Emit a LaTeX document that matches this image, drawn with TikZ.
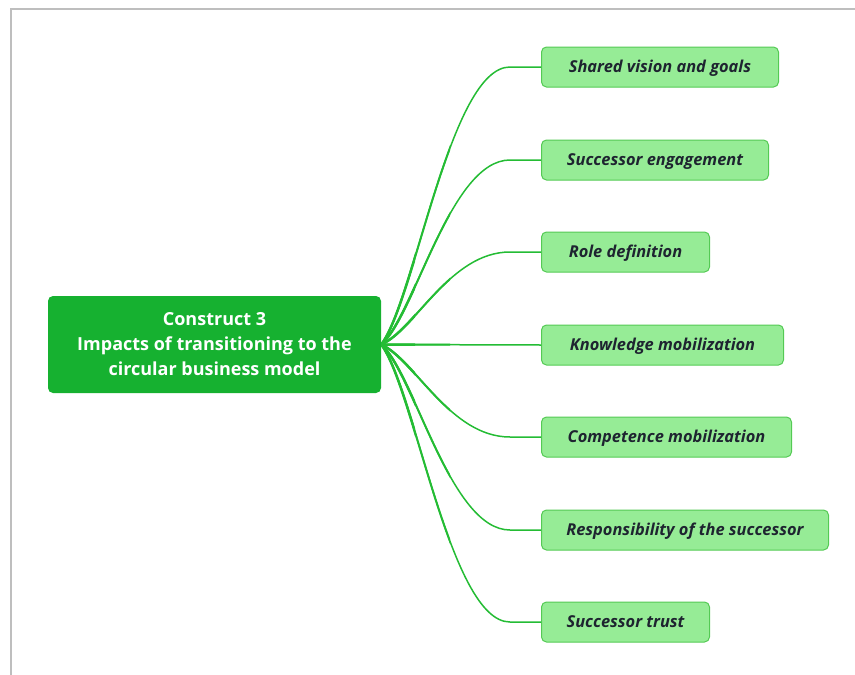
\documentclass[tikz,border=0pt]{standalone}
\usepackage{fontspec}
\setmainfont{Open Sans}
\usetikzlibrary{calc}
\definecolor{rootgreen}{RGB}{22,177,48}
\definecolor{leafgreen}{RGB}{150,236,150}
\definecolor{leafedge}{RGB}{84,202,84}
\definecolor{branchgreen}{RGB}{36,188,52}
\definecolor{leaftext}{RGB}{30,36,48}
\definecolor{framegray}{RGB}{190,190,190}

\begin{document}
\begin{tikzpicture}[x=1pt,y=-1pt,
  rootbox/.style={fill=rootgreen, rounded corners=5pt, minimum width=333pt,
    minimum height=97pt, text=white, align=center, inner sep=0pt,
    font=\bfseries\fontsize{18}{25}\selectfont},
  leafbox/.style={anchor=west, fill=leafgreen, draw=leafedge, line width=1pt,
    rounded corners=5pt, minimum height=40pt, inner sep=0pt, text=leaftext,
    text height=11.6pt, text depth=0pt,
    font=\bfseries\itshape\fontsize{16.4}{18}\selectfont},
  branchline/.style={draw=branchgreen, line width=#1},
  branchline/.default=1.4pt]

\useasboundingbox (0,0) rectangle (855,675);

% page frame
\draw[framegray, line width=2pt] (855,9) -- (11,9) -- (11,675);

% central topic
\node[rootbox] (root) at (214.5,344.5)
  {Construct 3\\Impacts of transitioning to the\\circular business model};

% subtopics
\node[leafbox, minimum width=237pt] (l1) at (541,67)  {Shared vision and goals};
\node[leafbox, minimum width=227pt] (l2) at (541,160) {Successor engagement};
\node[leafbox, minimum width=168pt] (l3) at (541,252) {Role definition};
\node[leafbox, minimum width=242pt] (l4) at (541,345) {Knowledge mobilization};
\node[leafbox, minimum width=250pt] (l5) at (541,437) {Competence mobilization};
\node[leafbox, minimum width=287pt] (l6) at (541,530) {Responsibility of the successor};
\node[leafbox, minimum width=168pt] (l7) at (541,622) {Successor trust};

% branches, thicker near the central topic and thinning toward the subtopics
\foreach \w/\xe in {1.5pt/541, 2.0pt/450, 2.5pt/415}{
  \begin{scope}
    \clip (381,0) rectangle (\xe,675);
    \foreach \n/\y in {l1/67,l2/160,l3/252,l5/437,l6/530,l7/622}{
      \draw[branchline=\w] (root.east)
        .. controls (415,{345+0.16*(\y-345)}) and (450,\y) .. (510,\y) -- (\n.west);
    }
    \draw[branchline=\w] (root.east) -- (l4.west);
  \end{scope}
}

\end{tikzpicture}
\end{document}
